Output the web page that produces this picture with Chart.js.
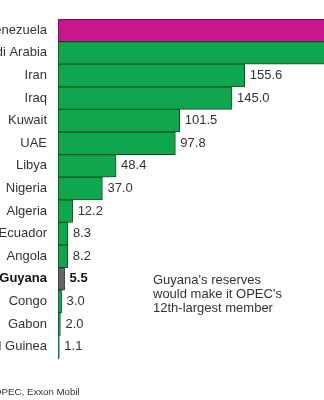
<!DOCTYPE html>
<html>
<head>
<meta charset="utf-8">
<script src="https://cdn.jsdelivr.net/npm/chart.js@4/dist/chart.umd.min.js"></script>
<style>
    html, body { margin: 0; padding: 0; background: #fff; overflow: hidden; }
    body { width: 324px; height: 400px; position: relative; font-family: Helvetica, Arial, "Liberation Sans", sans-serif; }
    #wrap { position: absolute; left: -40px; top: 0; width: 520px; height: 400px; }
    .note { position: absolute; left: 153px; top: 273px; font-size: 13px; line-height: 14px; color: #333; }
    .source { position: absolute; left: -42px; top: 386px; font-size: 9.7px; color: #333; white-space: nowrap; }
</style>
</head>
<body>
<div id="wrap"><canvas id="reservesChart"></canvas></div>
<div class="note">Guyana's reserves<br>would make it OPEC's<br>12th-largest member</div>
<div class="source">Source: OPEC, Exxon Mobil</div>

<script>
// Proven crude reserves, billions of barrels
const countries = ["Venezuela", "Saudi Arabia", "Iran", "Iraq", "Kuwait", "UAE", "Libya", "Nigeria",
    "Algeria", "Ecuador", "Angola", "Guyana", "Congo", "Gabon", "Equatorial Guinea"];
const reserves = [300.9, 266.5, 155.6, 145.0, 101.5, 97.8, 48.4, 37.0, 12.2, 8.3, 8.2, 5.5, 3.0, 2.0, 1.1];
const highlight = "Guyana";

const FONT = "Helvetica, Arial, 'Liberation Sans', sans-serif";

// Venezuela on top in magenta, Guyana in grey, everyone else green
function barFill(name, i) {
    if (i === 0) return "#c8168c";
    if (name === highlight) return "#666666";
    return "#0fa64e";
}
function barEdge(name, i) {
    if (i === 0) return "#5e0a42";
    if (name === highlight) return "#2a2a2a";
    return "#0b4f29";
}

// Writes the value just past the end of each bar
const valueLabels = {
    id: "valueLabels",
    afterDatasetsDraw(chart) {
        const ctx = chart.ctx;
        const meta = chart.getDatasetMeta(0);
        ctx.save();
        ctx.textBaseline = "middle";
        ctx.textAlign = "left";
        meta.data.forEach((bar, i) => {
            const bold = countries[i] === highlight;
            ctx.font = (bold ? "bold " : "") + "13px " + FONT;
            ctx.fillStyle = bold ? "#111" : "#333";
            ctx.fillText(reserves[i].toFixed(1), bar.x + 5, bar.y);
        });
        ctx.restore();
    }
};

new Chart(document.getElementById("reservesChart"), {
    type: "bar",
    data: {
        labels: countries,
        datasets: [{
            data: reserves,
            backgroundColor: countries.map(barFill),
            borderColor: countries.map(barEdge),
            borderWidth: 1,
            borderSkipped: false,
            barPercentage: 1,
            categoryPercentage: 1
        }]
    },
    options: {
        indexAxis: "y",
        responsive: true,
        maintainAspectRatio: false,
        animation: false,
        layout: { padding: { left: 0, right: 2, top: 19, bottom: 42 } },
        plugins: {
            legend: { display: false },
            tooltip: { enabled: false }
        },
        scales: {
            x: {
                display: false,
                min: 0,
                max: 350
            },
            y: {
                grid: { color: "transparent", drawTicks: false },
                border: { display: true, color: "#222", width: 1 },
                ticks: {
                    padding: 11,
                    autoSkip: false,
                    color: (c) => (c.tick && c.tick.label === highlight) ? "#111" : "#333",
                    font: (c) => ({
                        family: FONT,
                        size: 13,
                        weight: (c.tick && c.tick.label === highlight) ? "bold" : "normal"
                    })
                },
                afterFit(scale) {
                    scale.width = 98;
                }
            }
        }
    },
    plugins: [valueLabels]
});
</script>
</body>
</html>
